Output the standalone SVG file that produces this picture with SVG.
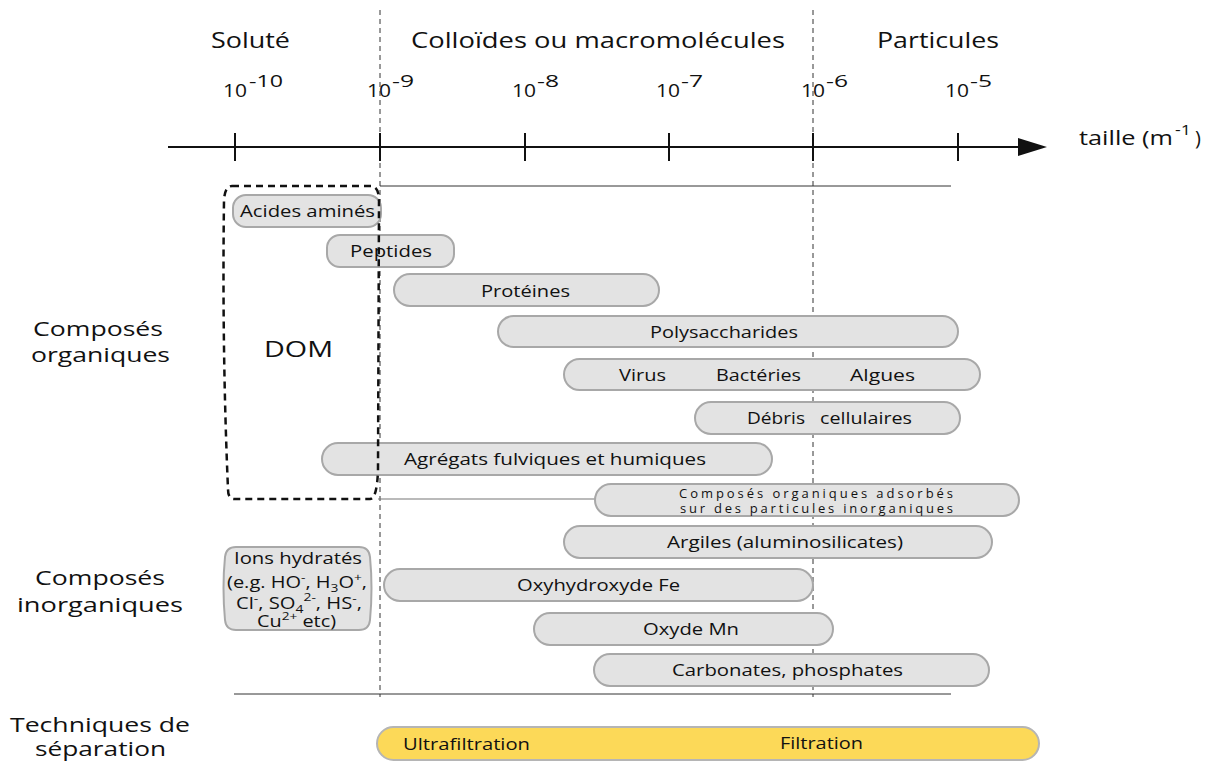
<svg xmlns="http://www.w3.org/2000/svg" width="1217" height="763" viewBox="0 0 1217 763">
<defs>
<style>
text{font-family:"Open Sans","Liberation Sans",sans-serif;fill:#111;}
.hd{font-size:21px;}
.ex{font-size:19px;}
.sup{font-size:16px;}
.lab{font-size:20px;}
.pill{fill:#e3e3e3;stroke:#a8a8a8;stroke-width:2;}
.pt{font-size:17px;}
.sm{font-size:13px;}
.ion{font-size:16px;}
.ax{stroke:#111;stroke-width:2;fill:none;}
.dash{stroke:#333;stroke-width:1;stroke-dasharray:5,4;fill:none;}
.thin{stroke:#333;stroke-width:1;fill:none;}
</style>
</defs>
<rect width="1217" height="763" fill="#fff"/>

<g id="headers">
<text class="hd" x="211" y="48" textLength="79" lengthAdjust="spacingAndGlyphs">Soluté</text>
<text class="hd" x="411" y="48" textLength="374" lengthAdjust="spacingAndGlyphs">Colloïdes ou macromolécules</text>
<text class="hd" x="877" y="48" textLength="122" lengthAdjust="spacingAndGlyphs">Particules</text>
</g>

<g id="exponents">
<text class="ex" x="223" y="97" textLength="24" lengthAdjust="spacingAndGlyphs">10</text>
<text class="sup" x="249" y="87" textLength="34" lengthAdjust="spacingAndGlyphs">-10</text>
<text class="ex" x="367" y="97" textLength="24" lengthAdjust="spacingAndGlyphs">10</text>
<text class="sup" x="392" y="87" textLength="22" lengthAdjust="spacingAndGlyphs">-9</text>
<text class="ex" x="512" y="97" textLength="24" lengthAdjust="spacingAndGlyphs">10</text>
<text class="sup" x="537" y="87" textLength="22" lengthAdjust="spacingAndGlyphs">-8</text>
<text class="ex" x="656" y="97" textLength="24" lengthAdjust="spacingAndGlyphs">10</text>
<text class="sup" x="681" y="87" textLength="22" lengthAdjust="spacingAndGlyphs">-7</text>
<text class="ex" x="801" y="97" textLength="24" lengthAdjust="spacingAndGlyphs">10</text>
<text class="sup" x="826" y="87" textLength="22" lengthAdjust="spacingAndGlyphs">-6</text>
<text class="ex" x="945" y="97" textLength="24" lengthAdjust="spacingAndGlyphs">10</text>
<text class="sup" x="970" y="87" textLength="22" lengthAdjust="spacingAndGlyphs">-5</text>
</g>

<g id="connectors">
<line class="dash" x1="380" y1="10" x2="380" y2="697"/>
<line class="dash" x1="813" y1="10" x2="813" y2="697"/>
<line class="ax" x1="168" y1="147" x2="1022" y2="147"/>
<path d="M1018,138 L1047,147 L1018,156 Z" fill="#111"/>
<g class="ax">
<line x1="235" y1="133" x2="235" y2="161"/>
<line x1="380" y1="133" x2="380" y2="161"/>
<line x1="525" y1="133" x2="525" y2="161"/>
<line x1="669" y1="133" x2="669" y2="161"/>
<line x1="813" y1="133" x2="813" y2="161"/>
<line x1="958" y1="133" x2="958" y2="161"/>
</g>
<line class="thin" x1="380" y1="186" x2="951" y2="186"/>
<line x1="378" y1="499" x2="596" y2="499" stroke="#777" stroke-width="1.2"/>
<line class="thin" x1="234" y1="694" x2="951" y2="694"/>
</g>

<g id="axis-label">
<text x="1079" y="145" style="font-size:20px" textLength="94" lengthAdjust="spacingAndGlyphs">taille (m</text>
<text x="1175" y="135" style="font-size:14px" textLength="16" lengthAdjust="spacingAndGlyphs">-1</text>
<text x="1195" y="145" style="font-size:20px">)</text>
</g>

<g id="row-labels">
<text class="lab" x="33" y="336" textLength="130" lengthAdjust="spacingAndGlyphs">Composés</text>
<text class="lab" x="31" y="362" textLength="139" lengthAdjust="spacingAndGlyphs">organiques</text>
<text class="lab" x="35" y="585" textLength="130" lengthAdjust="spacingAndGlyphs">Composés</text>
<text class="lab" x="17" y="612" textLength="166" lengthAdjust="spacingAndGlyphs">inorganiques</text>
<text class="lab" x="10" y="732" textLength="180" lengthAdjust="spacingAndGlyphs">Techniques de</text>
<text class="lab" x="35" y="756" textLength="131" lengthAdjust="spacingAndGlyphs">séparation</text>
</g>

<g id="acides">
<rect class="pill" x="233" y="195" width="148" height="32" rx="13"/>
<text class="pt" x="240" y="217" textLength="135" lengthAdjust="spacingAndGlyphs">Acides aminés</text>
</g>
<g id="peptides">
<rect class="pill" x="327" y="235" width="127" height="32" rx="13"/>
<text class="pt" x="350" y="257" textLength="82" lengthAdjust="spacingAndGlyphs">Peptides</text>
</g>
<g id="proteines">
<rect class="pill" x="394" y="274" width="265" height="32" rx="16"/>
<text class="pt" x="481" y="297" textLength="89" lengthAdjust="spacingAndGlyphs">Protéines</text>
</g>
<g id="polysaccharides">
<rect class="pill" x="498" y="316" width="460" height="31" rx="15.5"/>
<text class="pt" x="650" y="338" textLength="148" lengthAdjust="spacingAndGlyphs">Polysaccharides</text>
</g>
<g id="virus">
<rect class="pill" x="564" y="359" width="416" height="31" rx="15.5"/>
<text class="pt" x="619" y="381" textLength="47" lengthAdjust="spacingAndGlyphs">Virus</text>
<text class="pt" x="716" y="381" textLength="85" lengthAdjust="spacingAndGlyphs">Bactéries</text>
<text class="pt" x="850" y="381" textLength="65" lengthAdjust="spacingAndGlyphs">Algues</text>
</g>
<g id="debris">
<rect class="pill" x="695" y="402" width="265" height="32" rx="16"/>
<text class="pt" y="424"><tspan x="747" textLength="58" lengthAdjust="spacingAndGlyphs">Débris</tspan> <tspan x="820" textLength="92" lengthAdjust="spacingAndGlyphs">cellulaires</tspan></text>
</g>
<g id="agregats">
<rect class="pill" x="322" y="443" width="450" height="32" rx="16"/>
<text class="pt" x="404" y="465" textLength="302" lengthAdjust="spacingAndGlyphs">Agrégats fulviques et humiques</text>
</g>
<g id="adsorbes">
<rect class="pill" x="595" y="484" width="424" height="32" rx="16"/>
<text class="sm" x="679" y="498" textLength="274" lengthAdjust="spacing">Composés organiques adsorbés</text>
<text class="sm" x="680" y="513" textLength="273" lengthAdjust="spacing">sur des particules inorganiques</text>
</g>
<g id="argiles">
<rect class="pill" x="564" y="526" width="428" height="32" rx="16"/>
<text class="pt" x="667" y="548" textLength="236" lengthAdjust="spacingAndGlyphs">Argiles (aluminosilicates)</text>
</g>
<g id="oxyfe">
<rect class="pill" x="384" y="569" width="429" height="32" rx="16"/>
<text class="pt" x="517" y="591" textLength="163" lengthAdjust="spacingAndGlyphs">Oxyhydroxyde Fe</text>
</g>
<g id="oxymn">
<rect class="pill" x="534" y="613" width="299" height="32" rx="16"/>
<text class="pt" x="643" y="635" textLength="96" lengthAdjust="spacingAndGlyphs">Oxyde Mn</text>
</g>
<g id="carbonates">
<rect class="pill" x="594" y="654" width="395" height="32" rx="16"/>
<text class="pt" x="672" y="676" textLength="231" lengthAdjust="spacingAndGlyphs">Carbonates, phosphates</text>
</g>
<g id="ions">
<path class="pill" d="M236,547 L359,547 Q369,547 370,557 Q373,588 370,620 Q369,630 359,630 L236,630 Q226,630 225,620 Q222,588 225,557 Q226,547 236,547 Z"/>
<text class="ion" x="234" y="564" textLength="128" lengthAdjust="spacingAndGlyphs">Ions hydratés</text>
<text class="ion" x="227" y="588" textLength="140" lengthAdjust="spacingAndGlyphs">(e.g. HO<tspan font-size="11" dy="-7">-</tspan><tspan dy="7">, H</tspan><tspan font-size="11" dy="4">3</tspan><tspan dy="-4">O</tspan><tspan font-size="11" dy="-7">+</tspan><tspan dy="7">,</tspan></text>
<text class="ion" x="236" y="609" textLength="126" lengthAdjust="spacingAndGlyphs">Cl<tspan font-size="11" dy="-7">-</tspan><tspan dy="7">, SO</tspan><tspan font-size="11" dy="4">4</tspan><tspan font-size="11" dy="-12">2-</tspan><tspan dy="8">, HS</tspan><tspan font-size="11" dy="-7">-</tspan><tspan dy="7">,</tspan></text>
<text class="ion" x="257" y="627" textLength="79" lengthAdjust="spacingAndGlyphs">Cu<tspan font-size="11" dy="-7">2+</tspan><tspan dy="7"> etc)</tspan></text>
</g>
<g id="dom">
<path d="M232,186 L372,186 Q379,188 379,200 L378,470 Q377,499 370,499 L234,499 Q228,499 228,489 Q222,350 224,200 Q225,186 232,186 Z" fill="none" stroke="#111" stroke-width="2.5" stroke-dasharray="7,5"/>
<text x="264" y="357" style="font-size:21px" textLength="69" lengthAdjust="spacingAndGlyphs">DOM</text>
</g>
<g id="separation">
<rect x="377" y="727" width="662" height="33" rx="16.5" fill="#fcd958" stroke="#b5b5b5" stroke-width="2"/>
<text class="pt" x="403" y="750" textLength="127" lengthAdjust="spacingAndGlyphs">Ultrafiltration</text>
<text class="pt" x="780" y="749" textLength="83" lengthAdjust="spacingAndGlyphs">Filtration</text>
</g>
</svg>
